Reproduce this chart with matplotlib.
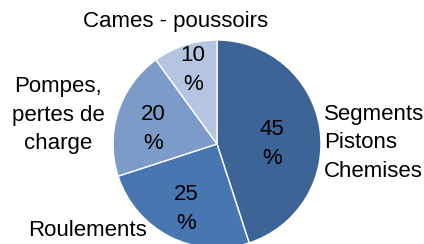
import matplotlib
matplotlib.use("Agg")
import matplotlib.pyplot as plt

categories = ["Segments\nPistons\nChemises", "Roulements", "Pompes,\npertes de\ncharge", "Cames - poussoirs"]
values = [45, 25, 20, 10]
colors = ["#3D6496", "#4876B0", "#7C9BC9", "#B5C4E0"]

W, H = 424, 244
fig = plt.figure(figsize=(W / 100, H / 100), dpi=100)
ax = fig.add_axes([0, 0, 1, 1])

cx, cy, r = 217, H - 144, 104
ax.pie(values, colors=colors, startangle=90, counterclock=False,
       center=(cx, cy), radius=r, frame=True,
       wedgeprops=dict(edgecolor="white", linewidth=1.0))
ax.set_xlim(0, W)
ax.set_ylim(0, H)
ax.set_aspect("equal")
ax.axis("off")

font = dict(family=["Liberation Sans", "DejaVu Sans"], fontsize=16, color="black")

# percentage labels (pixel positions)
pct_pos = [(272, 144), (186, 209), (153, 129), (193, 70)]
for v, (x, y) in zip(values, pct_pos):
    ax.text(x, H - y, f"{v}\n%", ha="center", va="center", linespacing=1.45, **font)

# category labels
ax.text(324, H - 143, categories[0], ha="left", va="center", linespacing=1.45, **font)
ax.text(87, H - 230, categories[1], ha="center", va="center", **font)
ax.text(58, H - 115, categories[2], ha="center", va="center", linespacing=1.45, **font)
ax.text(176, H - 21, categories[3], ha="center", va="center", **font)

fig.savefig("out.png", dpi=100)
